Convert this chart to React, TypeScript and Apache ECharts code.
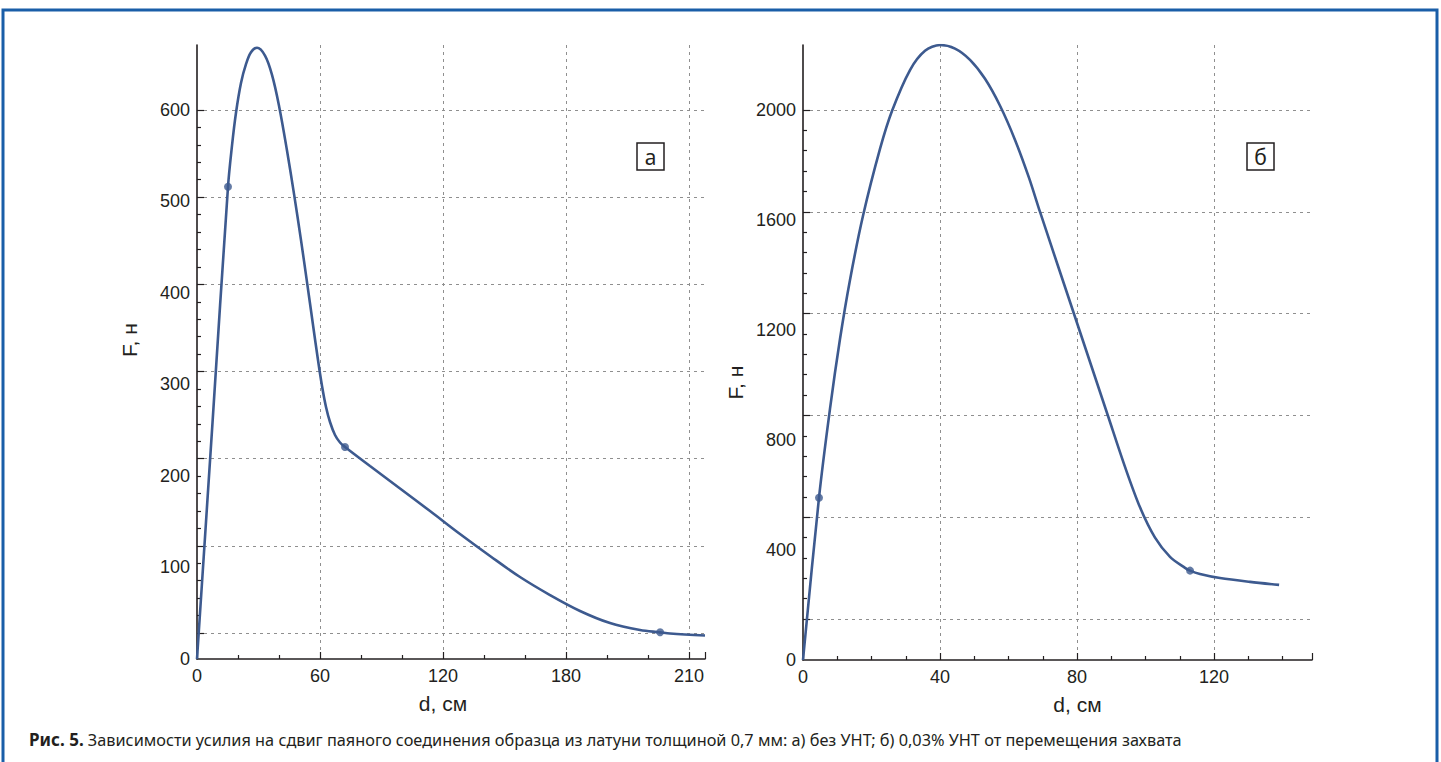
import React, { useEffect, useRef } from 'react';
import * as echarts from 'echarts';

// ---- Data ----
// Chart а: d, см vs F, н (without CNT)
const curveA: [number, number][] = [
  [0, 0], [7.56, 258], [15.12, 516], [17.07, 561], [19.02, 597], [21.46, 629.5],
  [23.9, 650], [26.34, 663], [29.27, 668], [33.17, 659.5], [36.59, 638.4], [40.0, 604.7],
  [43.9, 555.7], [47.32, 508.3], [50.73, 457.8], [53.66, 411.9], [56.59, 365],
  [59.02, 326.8], [60.98, 298.4], [62.93, 275.4], [64.88, 259], [67.32, 244.8],
  [69.76, 236.6], [72.2, 231.7], [84.39, 210.9], [99.02, 186.3], [113.66, 161.7],
  [128.29, 136.6], [142.93, 112.6], [157.56, 89.6], [172.2, 69.9], [186.83, 52.5],
  [201.46, 39.3], [216.1, 31.7], [225.9, 29.2], [230.73, 27.9], [247.8, 25.7],
];
const markersA: [number, number][] = [[15.12, 516], [72.2, 231.7], [225.9, 29.2]];

// Chart б: d, см vs F, н (0.03% CNT)
const curveB: [number, number][] = [
  [0, 0], [4.67, 590], [7.88, 913], [10.8, 1167], [13.72, 1382], [17.52, 1615],
  [22.48, 1858], [25.98, 1996], [31.24, 2145], [35.62, 2215], [40, 2236],
  [44.38, 2223], [48.76, 2182], [53.14, 2113], [57.52, 2015], [61.9, 1891],
  [65.99, 1753], [69.2, 1629], [79.42, 1247], [89.05, 887], [94.01, 702],
  [98.39, 555], [102.77, 445], [107.15, 375], [111.53, 335], [113, 325],
  [115.9, 313], [121.75, 298], [130.5, 284], [139, 273],
];
const markersB: [number, number][] = [[4.67, 590], [113, 325]];

// Tick labels
const xTickLabelsA = ['0', '60', '120', '180', '210'];
const yTickLabelsA = ['0', '100', '200', '300', '400', '500', '600'];
const xTickLabelsB = ['0', '40', '80', '120'];
const yTickLabelsB = ['0', '400', '800', '1200', '1600', '2000'];

const captionBold = 'Рис. 5.';
const captionText =
  'Зависимости усилия на сдвиг паяного соединения образца из латуни толщиной 0,7 мм: а) без УНТ; б) 0,03% УНТ от перемещения захвата';

const INK = '#231f20';
const LINE = '#3d5a8f';
const GRIDC = '#8f8f8f';
const FONT = '"Liberation Sans", Arial, sans-serif';
const CAPFONT = '"Noto Sans", sans-serif';

const labelFmt = (labels: string[], step: number) => (v: number) => {
  const i = Math.round(v / step);
  return Math.abs(i * step - v) < 1e-6 && labels[i] !== undefined ? labels[i] : '';
};

const dashed = { color: GRIDC, width: 1, type: [3, 4] as any };

function xAxisVisible(gridIndex: number, max: number, interval: number, minorSplit: number, labels: string[], namePad: number[]) {
  return {
    type: 'value', gridIndex, min: 0, max, interval,
    axisLine: { show: true, onZero: false, lineStyle: { color: INK, width: 1.6 } },
    axisTick: { show: true, inside: true, length: 7, lineStyle: { color: INK, width: 1.2 } },
    minorTick: { show: true, splitNumber: minorSplit, length: 4, lineStyle: { color: INK, width: 1.2 } },
    splitLine: { show: true, showMinLine: false, showMaxLine: false, lineStyle: dashed },
    axisLabel: {
      show: true, color: INK, fontSize: 18, fontFamily: FONT, margin: 8,
      showMaxLabel: false, formatter: labelFmt(labels, interval),
    },
    name: 'd, см', nameLocation: 'middle', nameGap: 34,
    nameTextStyle: { color: INK, fontSize: 21, fontFamily: FONT, padding: namePad },
  };
}

function hiddenX(gridIndex: number, max: number) {
  return { type: 'value', gridIndex, min: 0, max, show: false };
}

function yLabelAxis(gridIndex: number, max: number, interval: number, labels: string[], namePad: number[]) {
  return {
    type: 'value', gridIndex, min: 0, max, interval,
    axisLine: { show: true, onZero: false, lineStyle: { color: INK, width: 1.6 } },
    axisTick: { show: false },
    splitLine: { show: false },
    axisLabel: {
      show: true, color: INK, fontSize: 18, fontFamily: FONT, margin: 7,
      showMaxLabel: false, formatter: labelFmt(labels, interval),
    },
    name: 'F, н', nameLocation: 'middle', nameGap: 57,
    nameTextStyle: { color: INK, fontSize: 21, fontFamily: FONT, padding: namePad },
  };
}

function yTickAxis(gridIndex: number, max: number, interval: number) {
  return {
    type: 'value', gridIndex, min: 0, max, interval,
    axisLine: { show: false },
    axisTick: { show: true, inside: true, length: 7, lineStyle: { color: INK, width: 1.2 } },
    minorTick: { show: true, splitNumber: 5, length: 4, lineStyle: { color: INK, width: 1.2 } },
    splitLine: { show: true, lineStyle: dashed },
    axisLabel: { show: false },
  };
}

export default function App() {
  const ref = useRef<HTMLDivElement>(null);
  useEffect(() => {
    if (!ref.current) return;
    const chart = echarts.init(ref.current, null, { renderer: 'svg' });
    chart.setOption({
      animation: false,
      backgroundColor: '#ffffff',
      title: {
        left: 24, top: 726,
        text: `{b|${captionBold}} ${captionText}`,
        textStyle: {
          fontSize: 16.3, fontFamily: CAPFONT, color: INK, fontWeight: 'normal',
          rich: { b: { fontSize: 17, fontFamily: CAPFONT, fontWeight: 'bold', color: INK } },
        },
      },
      grid: [
        { left: 197, right: 736, top: 45, bottom: 103, containLabel: false },
        { left: 197, right: 736, top: 110, bottom: 129, containLabel: false },
        { left: 803, right: 129, top: 45, bottom: 102, containLabel: false },
        { left: 803, right: 129, top: 110, bottom: 143, containLabel: false },
      ],
      xAxis: [
        xAxisVisible(0, 247.8, 60, 3, xTickLabelsA, [0, 16, 0, 0]),
        hiddenX(1, 247.8),
        xAxisVisible(2, 148.6, 40, 4, xTickLabelsB, [0, 0, 0, 40]),
        hiddenX(3, 148.6),
      ],
      yAxis: [
        yLabelAxis(0, 671, 100, yTickLabelsA, [0, 0, 0, 24]),
        yTickAxis(1, 600, 100),
        yLabelAxis(2, 2236, 400, yTickLabelsB, [0, 60, 0, 0]),
        yTickAxis(3, 2000, 400),
      ],
      series: [
        {
          type: 'line', xAxisIndex: 0, yAxisIndex: 0, data: curveA, smooth: 0.35,
          showSymbol: false, lineStyle: { color: LINE, width: 2.6 }, z: 5,
        },
        {
          type: 'scatter', xAxisIndex: 0, yAxisIndex: 0, data: markersA, symbolSize: 8,
          itemStyle: { color: LINE }, z: 6,
        },
        {
          type: 'line', xAxisIndex: 2, yAxisIndex: 2, data: curveB, smooth: 0.3,
          showSymbol: false, lineStyle: { color: LINE, width: 2.6 }, z: 5,
        },
        {
          type: 'scatter', xAxisIndex: 2, yAxisIndex: 2, data: markersB, symbolSize: 8,
          itemStyle: { color: LINE }, z: 6,
        },
      ],
      graphic: [
        {
          type: 'rect', shape: { x: 3, y: 10, width: 1434, height: 800 },
          style: { fill: 'none', stroke: '#1a5ea8', lineWidth: 3 }, silent: true,
        },
        {
          type: 'rect', shape: { x: 637, y: 143, width: 27, height: 27 },
          style: { fill: '#fff', stroke: INK, lineWidth: 1.5 },
        },
        {
          type: 'text', x: 650.5, y: 157,
          style: { text: 'а', fontSize: 21, fontFamily: CAPFONT, fill: INK, align: 'center', verticalAlign: 'middle' },
        },
        {
          type: 'rect', shape: { x: 1247, y: 143, width: 27, height: 27 },
          style: { fill: '#fff', stroke: INK, lineWidth: 1.5 },
        },
        {
          type: 'text', x: 1260.5, y: 157,
          style: { text: 'б', fontSize: 21, fontFamily: CAPFONT, fill: INK, align: 'center', verticalAlign: 'middle' },
        },
      ],
    });
    return () => chart.dispose();
  }, []);
  return (
    <div
      ref={ref}
      style={{ position: 'fixed', left: 0, top: 0, width: 1441, height: 762, background: '#fff' }}
    />
  );
}
